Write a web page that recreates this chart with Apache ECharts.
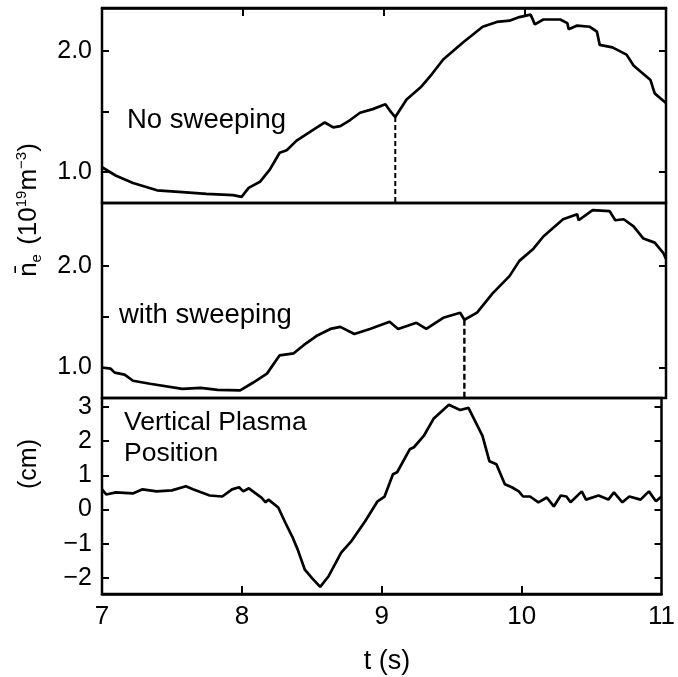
<!DOCTYPE html>
<html>
<head>
<meta charset="utf-8">
<script src="https://cdn.jsdelivr.net/npm/echarts@6/dist/echarts.min.js"></script>
<style>html,body{margin:0;padding:0;background:#fff}#c{width:678px;height:677px}</style>
</head>
<body>
<div id="c"></div>
<script>
// ---- data ----
const xTicks = [7, 8, 9, 10, 11];
const xInnerTicks = [8, 9, 10];
const neTicks = [1.0, 2.0];
const neMinorTicks = [1.0, 1.5, 2.0];
const posTicks = [-2, -1, 0, 1, 2, 3];

// Panel 1: no sweeping
const tNo = [7.0, 7.1, 7.22, 7.39, 7.57, 7.74, 7.93, 7.99, 8.04, 8.12, 8.19, 8.26, 8.31, 8.38, 8.5, 8.58, 8.64, 8.69, 8.76, 8.83, 8.92, 9.01, 9.04, 9.08, 9.16, 9.26, 9.34, 9.42, 9.56, 9.7, 9.8, 9.89, 9.96, 10.04, 10.07, 10.13, 10.25, 10.3, 10.31, 10.37, 10.46, 10.51, 10.53, 10.62, 10.72, 10.77, 10.79, 10.89, 10.92, 10.96, 11.0];
const nNo = [1.04, 0.97, 0.91, 0.85, 0.835, 0.82, 0.81, 0.795, 0.87, 0.92, 1.02, 1.16, 1.18, 1.26, 1.35, 1.41, 1.37, 1.38, 1.43, 1.49, 1.52, 1.56, 1.51, 1.455, 1.6, 1.7, 1.81, 1.93, 2.07, 2.2, 2.24, 2.25, 2.28, 2.3, 2.22, 2.26, 2.26, 2.23, 2.18, 2.21, 2.2, 2.16, 2.05, 2.03, 1.97, 1.88, 1.86, 1.76, 1.65, 1.61, 1.57];

// Panel 2: with sweeping
const tSw = [7.0, 7.06, 7.09, 7.16, 7.22, 7.34, 7.57, 7.7, 7.82, 7.98, 8.07, 8.17, 8.26, 8.36, 8.43, 8.52, 8.62, 8.69, 8.79, 8.9, 9.04, 9.1, 9.23, 9.3, 9.42, 9.54, 9.57, 9.66, 9.77, 9.89, 9.96, 10.06, 10.13, 10.27, 10.37, 10.38, 10.48, 10.6, 10.64, 10.7, 10.77, 10.84, 10.92, 10.98, 11.0];
const nSw = [1.0, 0.99, 0.95, 0.93, 0.87, 0.84, 0.79, 0.8, 0.78, 0.775, 0.85, 0.94, 1.12, 1.14, 1.22, 1.31, 1.38, 1.4, 1.33, 1.38, 1.45, 1.38, 1.44, 1.38, 1.49, 1.54, 1.47, 1.54, 1.73, 1.9, 2.05, 2.17, 2.29, 2.46, 2.51, 2.45, 2.55, 2.54, 2.45, 2.46, 2.39, 2.27, 2.23, 2.13, 2.07];

// Panel 3: vertical plasma position (cm)
const tPos = [7.0, 7.03, 7.1, 7.22, 7.29, 7.39, 7.5, 7.6, 7.65, 7.77, 7.86, 7.93, 7.98, 8.01, 8.05, 8.14, 8.17, 8.19, 8.26, 8.31, 8.36, 8.4, 8.45, 8.5, 8.56, 8.62, 8.71, 8.78, 8.88, 8.97, 9.02, 9.08, 9.11, 9.2, 9.23, 9.3, 9.37, 9.48, 9.56, 9.62, 9.72, 9.77, 9.82, 9.88, 9.93, 9.98, 10.01, 10.06, 10.12, 10.18, 10.23, 10.28, 10.32, 10.35, 10.43, 10.46, 10.55, 10.62, 10.66, 10.72, 10.77, 10.85, 10.91, 10.96, 11.0];
const zPos = [0.59, 0.44, 0.5, 0.47, 0.59, 0.53, 0.56, 0.68, 0.59, 0.41, 0.38, 0.59, 0.65, 0.53, 0.62, 0.35, 0.21, 0.29, 0.06, -0.38, -0.79, -1.18, -1.76, -2.0, -2.26, -1.95, -1.26, -0.94, -0.35, 0.24, 0.38, 1.03, 1.09, 1.76, 1.82, 2.15, 2.65, 3.06, 2.91, 2.97, 2.15, 1.41, 1.32, 0.74, 0.65, 0.53, 0.38, 0.38, 0.21, 0.35, 0.09, 0.41, 0.38, 0.21, 0.53, 0.29, 0.41, 0.29, 0.5, 0.21, 0.38, 0.29, 0.53, 0.24, 0.38];

// dashed markers [t, value at curve]
const dashNo = [9.08, 1.455];
const dashSw = [9.57, 1.47];

// axis ranges
const xRange = [7, 11];
const ne1Range = [0.745, 2.355];
const ne2Range = [0.70, 2.62];
const posRange = [-2.47, 3.26];

// ---- chart ----
const FONT = '"Liberation Sans", Arial, Helvetica, sans-serif';
const zip = (a, b) => a.map((v, i) => [v, b[i]]);
const fmt1 = v => v.toFixed(1);
const fmtInt = v => (v < 0 ? '\u2212' + Math.abs(v) : String(v));

const L = 102, R = 12;
const grids = [
  { left: L, right: R, top: 8, height: 195 },
  { left: L, right: R, top: 203, height: 195 },
  { left: L, right: R, top: 398, height: 196 }
].map(g => Object.assign(g, { show: true, borderColor: '#000', borderWidth: 2.5, backgroundColor: 'transparent' }));

const xInnerTick = { show: true, inside: true, length: 8, customValues: xInnerTicks, lineStyle: { color: '#000', width: 2 } };
const blackLine = { show: true, onZero: false, lineStyle: { color: '#000', width: 2.5 } };

function xAx(gi, pos, opts) {
  return Object.assign({
    type: 'value', gridIndex: gi, position: pos, min: xRange[0], max: xRange[1], interval: 1,
    axisLine: { show: false, onZero: false }, splitLine: { show: false },
    axisTick: { show: false }, axisLabel: { show: false }
  }, opts || {});
}
function yAx(gi, pos, range, ticks, tickVals, fmt, showLabel) {
  return {
    type: 'value', gridIndex: gi, position: pos, min: range[0], max: range[1],
    axisLine: { show: false, onZero: false }, splitLine: { show: false },
    axisTick: { show: true, inside: true, length: 7, customValues: tickVals, lineStyle: { color: '#000', width: 2 } },
    axisLabel: { show: showLabel, customValues: ticks, formatter: fmt, margin: 10, color: '#000', fontSize: 25, fontFamily: FONT }
  };
}

const option = {
  animation: false,
  backgroundColor: '#fff',
  grid: grids,
  xAxis: [
    xAx(0, 'top', { axisLine: blackLine, axisTick: xInnerTick }),
    xAx(1, 'bottom'),
    xAx(2, 'bottom', {
      axisLine: blackLine,
      axisTick: xInnerTick,
      axisLabel: { show: true, customValues: xTicks, margin: 10, color: '#000', fontSize: 26, fontFamily: FONT }
    })
  ],
  yAxis: [
    yAx(0, 'left', ne1Range, neTicks, neMinorTicks, fmt1, true),
    yAx(0, 'right', ne1Range, neTicks, neTicks, fmt1, false),
    yAx(1, 'left', ne2Range, neTicks, neMinorTicks, fmt1, true),
    yAx(1, 'right', ne2Range, neTicks, neTicks, fmt1, false),
    yAx(2, 'left', posRange, posTicks, posTicks, fmtInt, true),
    yAx(2, 'right', posRange, posTicks, posTicks, fmtInt, false)
  ],
  series: [
    { type: 'line', xAxisIndex: 0, yAxisIndex: 0, data: zip(tNo, nNo), showSymbol: false, lineStyle: { color: '#000', width: 2.7 } },
    { type: 'line', xAxisIndex: 1, yAxisIndex: 2, data: zip(tSw, nSw), showSymbol: false, lineStyle: { color: '#000', width: 2.7 } },
    { type: 'line', xAxisIndex: 2, yAxisIndex: 4, data: zip(tPos, zPos), showSymbol: false, lineStyle: { color: '#000', width: 2.7 } },
    { type: 'line', xAxisIndex: 0, yAxisIndex: 0, data: [[dashNo[0], dashNo[1]], [dashNo[0], ne1Range[0]]], showSymbol: false, lineStyle: { color: '#000', width: 2, type: [5, 3] } },
    { type: 'line', xAxisIndex: 1, yAxisIndex: 2, data: [[dashSw[0], dashSw[1]], [dashSw[0], ne2Range[0]]], showSymbol: false, lineStyle: { color: '#000', width: 2.4, type: [6, 3] } }
  ],
  graphic: [
    { type: 'text', left: 127, top: 106, style: { text: 'No sweeping', fontSize: 27.5, fontFamily: FONT, fill: '#000' } },
    { type: 'text', left: 119, top: 301, style: { text: 'with sweeping', fontSize: 27.5, fontFamily: FONT, fill: '#000' } },
    { type: 'text', left: 124, top: 407, style: { text: 'Vertical Plasma\nPosition', fontSize: 26.5, lineHeight: 31, fontFamily: FONT, fill: '#000' } },
    { type: 'text', x: 387, y: 662, style: { text: 't (s)', fontSize: 27, fontFamily: FONT, fill: '#000', align: 'center', verticalAlign: 'middle' } },
    { type: 'text', x: 29, y: 464, rotation: Math.PI / 2, style: { text: '(cm)', fontSize: 25, fontFamily: FONT, fill: '#000', align: 'center', verticalAlign: 'middle' } },
    { type: 'text', x: 29, y: 210, rotation: Math.PI / 2, style: {
        text: '{a|n\u0304}{sub|e}{a| (10}{sup|19}{a|m}{sup|\u22123}{a|)}',
        align: 'center', verticalAlign: 'middle', fill: '#000',
        rich: {
          a: { fontSize: 26, fontFamily: FONT, fill: '#000', lineHeight: 30, verticalAlign: 'middle' },
          sub: { fontSize: 15, fontFamily: FONT, fill: '#000', lineHeight: 30, verticalAlign: 'bottom', padding: [0, 2, 0, 0] },
          sup: { fontSize: 15, fontFamily: FONT, fill: '#000', lineHeight: 30, verticalAlign: 'top' }
        }
      } }
  ]
};

const chart = echarts.init(document.getElementById('c'), null, { renderer: 'canvas' });
chart.setOption(option);
</script>
</body>
</html>
